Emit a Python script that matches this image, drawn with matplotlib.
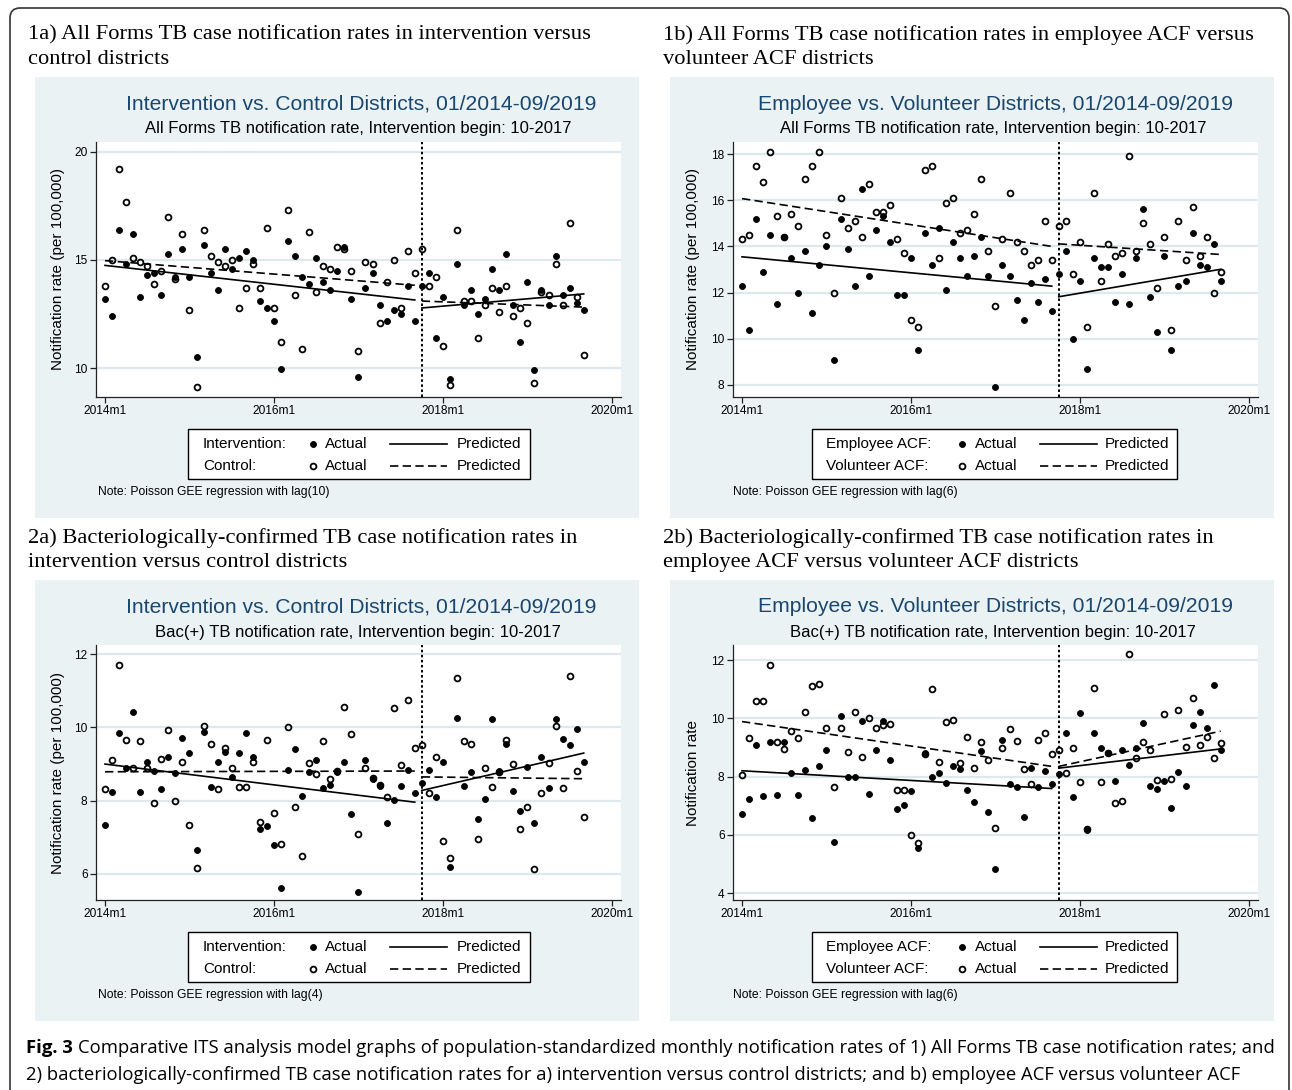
import numpy as np
import matplotlib
matplotlib.use("Agg")
import matplotlib.pyplot as plt
from matplotlib.lines import Line2D
from matplotlib.patches import Rectangle, FancyBboxPatch
from matplotlib.transforms import IdentityTransform

plt.rcParams["font.family"] = ["Liberation Sans", "DejaVu Sans"]

# ---- data (month index 0 = 2014m1, 68 = 2019m9) ----
months = np.arange(69)
break_month = 45  # 2017m10
xtick_pos = [0, 24, 48, 72]
xtick_lab = ["2014m1", "2016m1", "2018m1", "2020m1"]

# 1a all forms, intervention vs control
a1_int = [13.2, 12.4, 16.4, 14.8, 16.2, 13.3, 14.3, 14.4, 13.4, 15.3,
          14.2, 15.5, 14.2, 10.5, 15.7, 14.4, 13.6, 15.5, 14.6, 15.1,
          15.4, 15.0, 13.1, 12.8, 12.2, 9.95, 15.9, 15.2, 14.2, 13.9,
          15.1, 14.0, 13.6, 14.5, 15.6, 13.2, 9.6, 13.7, 14.4, 12.9,
          12.2, 12.7, 12.5, 13.8, 12.2, 13.8, 14.4, 11.4, 13.3, 9.5,
          14.8, 12.9, 13.6, 12.5, 13.2, 14.6, 13.6, 15.3, 12.9, 11.2,
          14.0, 9.9, 13.6, 12.9, 15.2, 13.4, 13.7, 13.0, 12.7]
a1_ctl = [13.8, 15.0, 19.2, 17.7, 15.1, 14.9, 14.7, 13.9, 14.5, 17.0,
          14.1, 16.2, 12.7, 9.1, 16.4, 15.2, 14.9, 14.7, 15.0, 12.8,
          13.7, 14.8, 13.7, 16.5, 12.8, 11.2, 17.3, 13.4, 10.9, 16.3,
          13.5, 14.7, 14.6, 15.6, 15.5, 14.5, 10.8, 14.9, 14.8, 12.1,
          14.0, 15.0, 12.8, 15.4, 14.4, 15.5, 13.8, 14.2, 11.0, 9.2,
          16.4, 13.1, 13.1, 11.4, 12.9, 13.7, 12.6, 13.8, 12.4, 12.8,
          12.1, 9.3, 13.5, 13.4, 14.8, 12.9, 16.7, 13.3, 10.6]
a1_pred_int = [14.75, 13.15, 12.78, 13.43]  # pre start, pre end, post start, post end
a1_pred_ctl = [14.97, 13.83, 13.10, 12.82]

# 1b all forms, employee vs volunteer
b1_emp = [12.3, 10.4, 15.2, 12.9, 14.5, 11.5, 14.4, 13.5, 12.0, 13.8,
          11.1, 13.2, 14.0, 9.1, 15.2, 13.9, 12.3, 16.5, 12.7, 14.7,
          15.3, 14.2, 11.9, 11.9, 13.5, 9.5, 14.6, 13.2, 14.8, 12.1,
          14.2, 13.5, 12.7, 13.6, 14.4, 12.7, 7.9, 13.2, 12.7, 11.7,
          10.8, 12.4, 11.6, 12.6, 11.2, 12.8, 13.8, 10.0, 12.5, 8.7,
          13.5, 13.1, 13.1, 11.6, 12.8, 11.5, 13.5, 15.6, 11.8, 10.3,
          13.6, 9.5, 12.3, 12.5, 14.6, 13.2, 13.1, 14.1, 12.5]
b1_vol = [14.3, 14.5, 17.5, 16.8, 18.1, 15.3, 14.4, 15.4, 14.9, 16.9,
          17.5, 18.1, 14.5, 12.0, 16.1, 14.8, 15.1, 14.4, 16.7, 15.5,
          15.5, 15.8, 14.3, 13.7, 10.8, 10.5, 17.3, 17.5, 13.5, 15.9,
          16.1, 14.6, 14.7, 15.4, 16.9, 13.8, 11.4, 14.3, 16.3, 14.2,
          13.8, 13.2, 13.4, 15.1, 13.4, 14.9, 15.1, 12.8, 14.2, 10.5,
          16.3, 12.5, 14.1, 13.6, 13.7, 17.9, 13.8, 15.0, 14.1, 12.2,
          14.4, 10.4, 15.1, 13.4, 15.7, 13.6, 14.4, 12.0, 12.9]
b1_pred_emp = [13.55, 12.28, 11.82, 13.01]
b1_pred_vol = [16.07, 14.00, 14.11, 13.65]

# 2a bac(+), intervention vs control
a2_int = [7.35, 8.24, 9.84, 8.9, 10.43, 8.24, 9.06, 8.81, 8.33, 9.18,
          8.76, 9.72, 9.3, 6.66, 9.87, 8.37, 9.06, 9.32, 8.65, 9.3,
          9.85, 9.18, 7.22, 7.31, 6.79, 5.62, 8.85, 9.42, 8.13, 8.79,
          9.11, 8.36, 8.43, 8.79, 9.05, 7.65, 5.52, 9.1, 8.6, 8.39,
          7.39, 8.01, 8.41, 8.83, 8.22, 8.49, 8.85, 8.09, 9.05, 6.18,
          10.26, 8.4, 8.79, 7.49, 8.06, 10.23, 8.81, 9.54, 8.26, 7.73,
          8.93, 7.39, 9.18, 8.35, 10.22, 9.69, 9.53, 9.95, 9.05]
a2_ctl = [8.33, 9.1, 11.71, 9.67, 8.88, 9.62, 8.88, 7.93, 9.14, 9.92,
          8.0, 9.05, 7.35, 6.16, 10.04, 9.55, 8.33, 9.43, 8.88, 8.38,
          8.38, 9.06, 7.42, 9.66, 7.67, 6.83, 10.0, 7.83, 6.49, 9.03,
          8.73, 9.63, 8.59, 8.81, 10.56, 9.82, 7.1, 8.89, 8.62, 8.44,
          8.11, 10.52, 8.97, 10.74, 9.45, 9.52, 8.22, 9.18, 6.89, 6.45,
          11.34, 9.64, 9.54, 6.96, 8.89, 8.37, 8.79, 9.66, 9.01, 7.22,
          7.82, 6.14, 8.22, 9.03, 10.05, 8.36, 11.41, 8.8, 7.55]
a2_pred_int = [9.00, 7.96, 8.28, 9.30]
a2_pred_ctl = [8.79, 8.81, 8.65, 8.60]

# 2b bac(+), employee vs volunteer
b2_emp = [6.72, 7.24, 9.09, 7.32, 9.18, 7.38, 9.18, 8.14, 7.38, 8.21,
          6.58, 8.36, 8.92, 5.75, 10.07, 8.0, 8.0, 9.92, 7.39, 8.92,
          9.92, 8.56, 6.9, 7.03, 7.5, 5.53, 8.82, 8.0, 8.14, 7.77,
          8.35, 8.27, 7.54, 7.14, 8.89, 6.78, 4.84, 9.24, 7.73, 7.65,
          6.62, 8.28, 7.65, 8.2, 7.73, 8.1, 9.49, 7.31, 10.18, 6.17,
          9.51, 8.99, 8.81, 7.84, 8.92, 8.4, 8.99, 9.84, 7.66, 7.57,
          7.84, 6.93, 8.15, 7.69, 9.77, 10.23, 9.66, 11.15, 8.93]
b2_vol = [8.05, 9.34, 10.6, 10.6, 11.83, 9.18, 8.95, 9.58, 9.32, 10.22,
          11.11, 11.18, 9.68, 7.64, 9.68, 8.84, 10.22, 8.66, 10.01, 9.67,
          9.76, 9.82, 7.54, 7.54, 6.01, 5.71, 8.76, 11.02, 8.5, 9.89,
          9.96, 8.45, 9.36, 8.29, 9.19, 8.58, 6.23, 8.99, 9.64, 9.21,
          8.25, 7.73, 9.27, 9.49, 8.77, 8.92, 8.14, 8.97, 7.81, 6.21,
          11.06, 7.81, 8.8, 7.09, 7.15, 12.22, 8.64, 9.19, 8.91, 7.88,
          10.15, 7.9, 10.28, 9.02, 10.71, 9.09, 9.37, 8.65, 9.17]
b2_pred_emp = [8.20, 7.59, 8.29, 8.95]
b2_pred_vol = [9.89, 8.35, 8.35, 9.56]

W, H = 1292, 1090
BG = "#eaf2f3"
GRID = "#dde9ed"
NAVY = "#1a476f"
SERIF = "Liberation Serif"

fig = plt.figure(figsize=(W / 100, H / 100), dpi=100)


def fx(x):
    return x / W


def fy(y):
    return 1 - y / H


panels = [
    dict(ox=35, oy=77, tick0=105, filled=a1_int, hollow=a1_ctl,
         pf=a1_pred_int, ph=a1_pred_ctl, ylim=(8.66, 20.46), yticks=[10, 15, 20],
         title="Intervention vs. Control Districts, 01/2014-09/2019",
         sub="All Forms TB notification rate, Intervention begin: 10-2017",
         ylab="Notification rate (per 100,000)", leg=("Intervention:", "Control:"),
         note="Note: Poisson GEE regression with lag(10)",
         head=("1a) All Forms TB case notification rates in intervention versus",
               "control districts")),
    dict(ox=670, oy=77, tick0=742, filled=b1_emp, hollow=b1_vol,
         pf=b1_pred_emp, ph=b1_pred_vol, ylim=(7.48, 18.52), yticks=[8, 10, 12, 14, 16, 18],
         title="Employee vs. Volunteer Districts, 01/2014-09/2019",
         sub="All Forms TB notification rate, Intervention begin: 10-2017",
         ylab="Notification rate (per 100,000)", leg=("Employee ACF:", "Volunteer ACF:"),
         note="Note: Poisson GEE regression with lag(6)",
         head=("1b) All Forms TB case notification rates in employee ACF versus",
               "volunteer ACF districts")),
    dict(ox=35, oy=580, tick0=105, filled=a2_int, hollow=a2_ctl,
         pf=a2_pred_int, ph=a2_pred_ctl, ylim=(5.29, 12.25), yticks=[6, 8, 10, 12],
         title="Intervention vs. Control Districts, 01/2014-09/2019",
         sub="Bac(+) TB notification rate, Intervention begin: 10-2017",
         ylab="Notification rate (per 100,000)", leg=("Intervention:", "Control:"),
         note="Note: Poisson GEE regression with lag(4)",
         head=("2a) Bacteriologically-confirmed TB case notification rates in",
               "intervention versus control districts")),
    dict(ox=670, oy=580, tick0=742, filled=b2_emp, hollow=b2_vol,
         pf=b2_pred_emp, ph=b2_pred_vol, ylim=(3.76, 12.52), yticks=[4, 6, 8, 10, 12],
         title="Employee vs. Volunteer Districts, 01/2014-09/2019",
         sub="Bac(+) TB notification rate, Intervention begin: 10-2017",
         ylab="Notification rate", leg=("Employee ACF:", "Volunteer ACF:"),
         note="Note: Poisson GEE regression with lag(6)",
         head=("2b) Bacteriologically-confirmed TB case notification rates in",
               "employee ACF versus volunteer ACF districts")),
]

PX_MONTH = 7.04
XLIM = (-1.3, 73.3)
DASH = (0, (5, 2.6))
FILLED = dict(marker="o", ms=4.3, mfc="black", mec="black", mew=0.6)
HOLLOW = dict(marker="o", ms=4.2, mfc="none", mec="black", mew=1.3)

for p in panels:
    ox, oy = p["ox"], p["oy"]
    # section heading (serif), two lines
    for k, line in enumerate(p["head"]):
        fig.text(fx(ox - 7), fy(oy - 42 + 25 * k), line, family=SERIF, fontsize=16.2,
                 va="center", ha="left")
    # graph region background
    fig.patches.append(Rectangle((fx(ox), fy(oy + 441)), 604 / W, 441 / H,
                                 transform=fig.transFigure, facecolor=BG,
                                 edgecolor="none", zorder=-10))
    # titles
    fig.text(fx(ox + 326), fy(oy + 27), p["title"], color=NAVY, fontsize=15.2,
             ha="center", va="center")
    fig.text(fx(ox + 323), fy(oy + 52), p["sub"], color="black", fontsize=12,
             ha="center", va="center")

    left = p["tick0"] + XLIM[0] * PX_MONTH
    right = p["tick0"] + XLIM[1] * PX_MONTH
    top, bottom = oy + 65, oy + 320
    ax = fig.add_axes([fx(left), fy(bottom), (right - left) / W, (bottom - top) / H])
    ax.set_facecolor("white")
    ax.set_xlim(*XLIM)
    ax.set_ylim(*p["ylim"])
    for s in ("top", "right"):
        ax.spines[s].set_visible(False)
    for s in ("left", "bottom"):
        ax.spines[s].set_color("#222222")
        ax.spines[s].set_linewidth(0.9)
    ax.set_yticks(p["yticks"])
    ax.set_xticks(xtick_pos)
    ax.set_xticklabels(xtick_lab)
    ax.tick_params(direction="out", length=4, width=0.9, color="#222222",
                   labelsize=8.6, pad=2)
    ax.grid(axis="y", color=GRID, linewidth=1.6)
    ax.set_axisbelow(True)

    ax.axvline(break_month, color="black", linewidth=1.4, linestyle=(0, (1.3, 1.3)), zorder=2)

    f = np.array(p["filled"])
    h = np.array(p["hollow"])
    ax.plot(months, f, linestyle="none", zorder=3, **FILLED)
    ax.plot(months, h, linestyle="none", zorder=3, **HOLLOW)

    pre = [0, break_month - 1]
    post = [break_month, 68]
    pf, ph = p["pf"], p["ph"]
    ax.plot(pre, pf[:2], color="black", lw=1.2, zorder=4)
    ax.plot(post, pf[2:], color="black", lw=1.2, zorder=4)
    ax.plot(pre, ph[:2], color="black", lw=1.2, linestyle=DASH, zorder=4)
    ax.plot(post, ph[2:], color="black", lw=1.2, linestyle=DASH, zorder=4)

    # y title
    fig.text(fx(ox + 23), fy((top + bottom) / 2), p["ylab"], rotation=90,
             fontsize=11, ha="center", va="center")

    # legend box
    right_side = ox > 300
    lx0 = ox + (142 if right_side else 153)
    lx1 = ox + (507 if right_side else 495)
    ly0, ly1 = oy + 352, oy + 402
    fig.patches.append(Rectangle((fx(lx0), fy(ly1)), (lx1 - lx0) / W, (ly1 - ly0) / H,
                                 transform=fig.transFigure, facecolor="white",
                                 edgecolor="black", lw=1.0, zorder=-5))
    cols = (156, 292, 305, 370, 427, 435) if right_side else (168, 278, 290, 355, 412, 422)
    for i, lab in enumerate(p["leg"]):
        yy = oy + 367 + 22 * i
        fig.text(fx(ox + cols[0]), fy(yy), lab, fontsize=11, ha="left", va="center")
        mk = FILLED if i == 0 else HOLLOW
        ls = "-" if i == 0 else DASH
        fig.add_artist(Line2D([fx(ox + cols[1])], [fy(yy)], linestyle="none",
                              transform=fig.transFigure, **mk))
        fig.text(fx(ox + cols[2]), fy(yy), "Actual", fontsize=11, ha="left", va="center")
        fig.add_artist(Line2D([fx(ox + cols[3]), fx(ox + cols[4])], [fy(yy), fy(yy)],
                              color="black", lw=1.2, linestyle=ls,
                              transform=fig.transFigure))
        fig.text(fx(ox + cols[5]), fy(yy), "Predicted", fontsize=11, ha="left", va="center")

    fig.text(fx(ox + 63), fy(oy + 415), p["note"], fontsize=8.7, ha="left", va="center")

# outer frame
fig.patches.append(FancyBboxPatch((10, -12), 1279, H - 8 + 12,
                                  boxstyle="round,pad=0,rounding_size=10",
                                  transform=IdentityTransform(), facecolor="none",
                                  edgecolor="#333333", lw=1.2, zorder=5))

# caption
cap_font = ["Open Sans", "DejaVu Sans"]
renderer = fig.canvas.get_renderer()
t = fig.text(fx(26), fy(1048), "Fig. 3", family=cap_font, fontweight="bold",
             fontsize=13.3, ha="left", va="center")
bb = t.get_window_extent(renderer=renderer)
fig.text((bb.x1 + 5) / W, fy(1048),
         "Comparative ITS analysis model graphs of population-standardized monthly "
         "notification rates of 1) All Forms TB case notification rates; and",
         family=cap_font, fontsize=13.3, ha="left", va="center")
fig.text(fx(26), fy(1075),
         "2) bacteriologically-confirmed TB case notification rates for a) intervention "
         "versus control districts; and b) employee ACF versus volunteer ACF",
         family=cap_font, fontsize=13.3, ha="left", va="center")

fig.savefig("out.png", dpi=100)
